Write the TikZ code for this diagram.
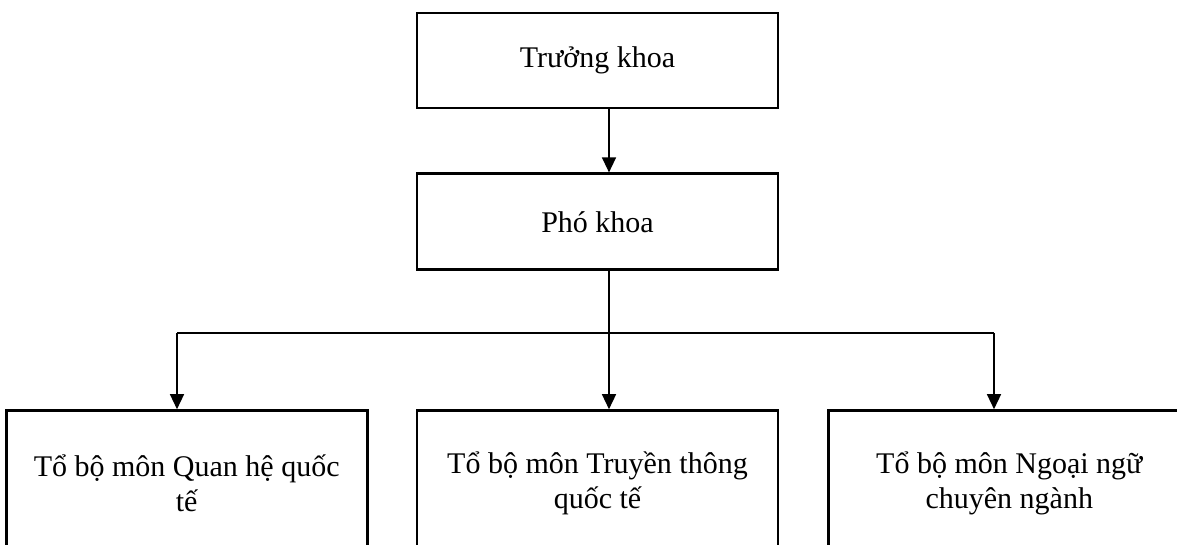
\documentclass[tikz,border=0pt]{standalone}
\usepackage{fontspec}
\setmainfont{Liberation Serif}
\usetikzlibrary{positioning,arrows.meta}
\tikzset{
  orgbox/.style={draw, line width=1.4pt, align=center, minimum width=180.5pt, inner sep=0pt, font=\fontsize{15}{17.5}\selectfont},
  orgarr/.style={-{Triangle[width=7pt,length=7.5pt]}, line width=0.7pt},
  orgline/.style={line width=0.7pt}
}

\begin{document}
\begin{tikzpicture}[x=0.5pt,y=-0.5pt]
  \useasboundingbox (0,0) rectangle (1177,545);
  \clip (0,0) rectangle (1177,545);
  % levels
  \node[orgbox, minimum height=47.5pt] (truong) at (597.5,60.5) {Trưởng khoa};
  \node[orgbox, minimum height=48pt, below=31.5pt of truong] (pho) {Phó khoa};
  \node[orgbox, minimum height=73pt, below=69pt of pho] (ttqt) {Tổ bộ môn Truyền thông\\quốc tế};
  \node[orgbox, minimum height=73pt, left=23.5pt of ttqt] (qhqt) {Tổ bộ môn Quan hệ quốc\\tế};
  \node[orgbox, minimum height=73pt, right=24pt of ttqt] (nnn) {Tổ bộ môn Ngoại ngữ\\chuyên ngành};
  % branch points
  \coordinate (split) at (609,333);
  \coordinate (dropA) at (177,333);
  \coordinate (dropC) at (994,333);
  \draw[orgarr] (truong.south -| split) -- (pho.north -| split);
  \draw[orgline] (pho.south -| split) -- (split);
  \draw[orgline] (dropA) -- (dropC);
  \draw[orgarr] (dropA) -- (dropA |- qhqt.north);
  \draw[orgarr] (split) -- (split |- ttqt.north);
  \draw[orgarr] (dropC) -- (dropC |- nnn.north);
\end{tikzpicture}
\end{document}
